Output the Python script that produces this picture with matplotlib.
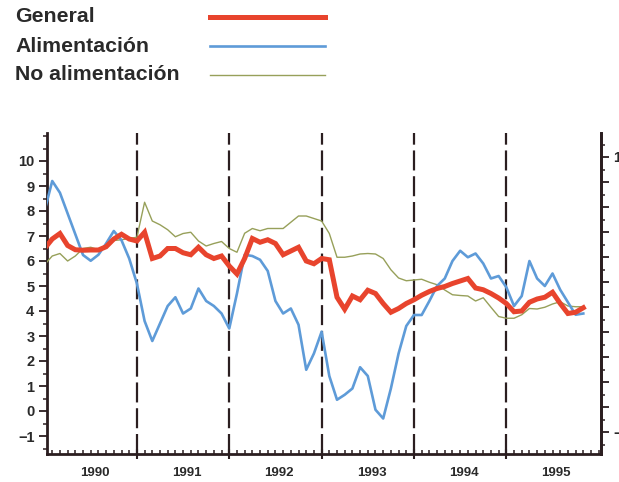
import matplotlib
matplotlib.use('Agg')
import matplotlib.pyplot as plt
from matplotlib.ticker import MultipleLocator, FixedLocator, NullFormatter
from matplotlib.lines import Line2D
import matplotlib.transforms as mtransforms
import numpy as np

# ---- data (monthly, Jan 1990 .. Nov 1995) ----
years = ['1990', '1991', '1992', '1993', '1994', '1995']
series_names = ['General', 'Alimentación', 'No alimentación']

general = [6.5, 6.88, 7.1, 6.62, 6.45, 6.43, 6.44, 6.44, 6.57, 6.88, 7.07, 6.88,
           6.8, 7.15, 6.1, 6.2, 6.5, 6.5, 6.33, 6.25, 6.55, 6.25, 6.1, 6.2,
           5.8, 5.48, 6.1, 6.9, 6.75, 6.85, 6.7, 6.25, 6.4, 6.55, 6.0, 5.89,
           6.1, 6.05, 4.55, 4.07, 4.6, 4.45, 4.83, 4.7, 4.3, 3.95, 4.1, 4.3,
           4.45, 4.63, 4.78, 4.9, 4.98, 5.1, 5.2, 5.3, 4.92, 4.85, 4.7, 4.52,
           4.3, 3.97, 4.0, 4.35, 4.48, 4.55, 4.75, 4.3, 3.9, 3.95, 4.13]

alimentacion = [8.0, 9.2, 8.73, 7.9, 7.07, 6.24, 6.01, 6.25, 6.7, 7.2, 6.83, 6.1,
                5.1, 3.6, 2.8, 3.5, 4.2, 4.55, 3.9, 4.1, 4.9, 4.4, 4.2, 3.9,
                3.3, 4.7, 6.25, 6.2, 6.05, 5.6, 4.4, 3.9, 4.1, 3.45, 1.65, 2.3,
                3.17, 1.4, 0.45, 0.65, 0.9, 1.75, 1.4, 0.05, -0.3, 0.9, 2.3, 3.4,
                3.84, 3.84, 4.4, 5.0, 5.3, 6.0, 6.41, 6.15, 6.3, 5.9, 5.3, 5.4,
                4.95, 4.2, 4.6, 6.0, 5.3, 5.0, 5.5, 4.85, 4.35, 3.85, 3.9]

no_alimentacion = [5.85, 6.2, 6.3, 6.0, 6.2, 6.5, 6.55, 6.45, 6.6, 6.82, 6.85, 6.9,
                   6.95, 8.35, 7.6, 7.45, 7.25, 6.97, 7.1, 7.15, 6.8, 6.6, 6.7, 6.78,
                   6.5, 6.35, 7.11, 7.3, 7.21, 7.3, 7.3, 7.3, 7.55, 7.8, 7.8, 7.7,
                   7.6, 7.1, 6.15, 6.15, 6.2, 6.28, 6.3, 6.28, 6.1, 5.65, 5.32, 5.21,
                   5.24, 5.27, 5.15, 5.05, 4.84, 4.65, 4.62, 4.6, 4.4, 4.53, 4.15, 3.78,
                   3.71, 3.71, 3.85, 4.1, 4.08, 4.15, 4.28, 4.37, 4.2, 4.17, 4.17]

months = np.arange(len(general))
ytick_values = list(range(-1, 11))

# ---- style ----
plt.rcParams['font.family'] = ['Liberation Sans', 'DejaVu Sans']
DARK = '#2b1e20'
TEXT = '#2a2a2a'
RED = '#e8442d'
BLUE = '#5e9bd8'
OLIVE = '#97a05a'

W, H = 619, 482
fig = plt.figure(figsize=(W / 100, H / 100), dpi=100)
fig.patch.set_facecolor('white')
ax = fig.add_axes([47 / W, 28 / H, 554 / W, 321 / H])

ax.plot(months, no_alimentacion, color=OLIVE, lw=1.0, zorder=3)
ax.plot(months, alimentacion, color=BLUE, lw=1.9, zorder=4)
ax.plot(months, general, color=RED, lw=3.6, zorder=5, solid_joinstyle='miter')

ax.set_xlim(0.32, 72.3)
ax.set_ylim(-1.72, 11.12)

# year boundary dashed lines
for k in range(1, 6):
    ax.axvline(12 * k, color=DARK, lw=1.6, dashes=(9, 2.6), zorder=2)

# spines
for s in ['left', 'bottom', 'right']:
    ax.spines[s].set_color(DARK)
    ax.spines[s].set_linewidth(2.0)
ax.spines['top'].set_visible(False)

# y ticks (left)
ax.yaxis.set_major_locator(FixedLocator(ytick_values))
ax.yaxis.set_minor_locator(MultipleLocator(0.5))
ax.tick_params(axis='y', which='major', direction='out', length=5.5, width=1.3,
               color=DARK, labelsize=10.5, labelcolor=TEXT, pad=3.5)
ax.tick_params(axis='y', which='minor', direction='out', length=3, width=1.1, color=DARK)
for lab in ax.get_yticklabels():
    lab.set_fontweight('bold')

# x ticks
ax.xaxis.set_major_locator(FixedLocator([12 * k for k in range(1, 6)]))
ax.xaxis.set_minor_locator(MultipleLocator(1))
ax.xaxis.set_major_formatter(NullFormatter())
ax.tick_params(axis='x', which='major', direction='inout', length=7, width=1.5, color=DARK)
ax.tick_params(axis='x', which='minor', direction='in', length=3, width=1.1, color=DARK)

trans = mtransforms.blended_transform_factory(ax.transData, ax.transAxes)
for k, yr in enumerate(years):
    ax.text(12 * k + 6.5, -19 / 321, yr, transform=trans, ha='center', va='center',
            fontsize=9.5, fontweight='bold', color=TEXT)

# right axis (labels partly cut by page edge, as in the scanned original)
ax2 = ax.twinx()
ax2.set_ylim(-1.72 - 0.16, 11.12 - 0.16)
ax2.set_xlim(ax.get_xlim())
for s in ['left', 'bottom', 'top']:
    ax2.spines[s].set_visible(False)
ax2.spines['right'].set_color(DARK)
ax2.spines['right'].set_linewidth(2.0)
ax2.yaxis.set_major_locator(FixedLocator(ytick_values))
ax2.yaxis.set_minor_locator(MultipleLocator(0.5))
ax2.tick_params(axis='y', which='major', direction='out', length=5.5, width=1.3,
                color=DARK, labelsize=10.5, labelcolor=TEXT, pad=15)
ax2.tick_params(axis='y', which='minor', direction='out', length=3, width=1.1, color=DARK)
for lab in ax2.get_yticklabels():
    lab.set_fontweight('bold')
    lab.set_horizontalalignment('right')

# legend (manual, top-left)
legend_y = [17, 46, 75]
legend_colors = [RED, BLUE, OLIVE]
legend_lw = [3.6, 1.9, 1.0]
for name, yy, c, lw in zip(series_names, legend_y, legend_colors, legend_lw):
    fig.text(15 / W, 1 - yy / H, name, ha='left', va='center', fontsize=15.3,
             fontweight='bold', color=TEXT)
    fig.add_artist(Line2D([210 / W, 325 / W], [1 - yy / H, 1 - yy / H],
                          color=c, lw=lw, transform=fig.transFigure))

fig.savefig('out.png', dpi=100)
